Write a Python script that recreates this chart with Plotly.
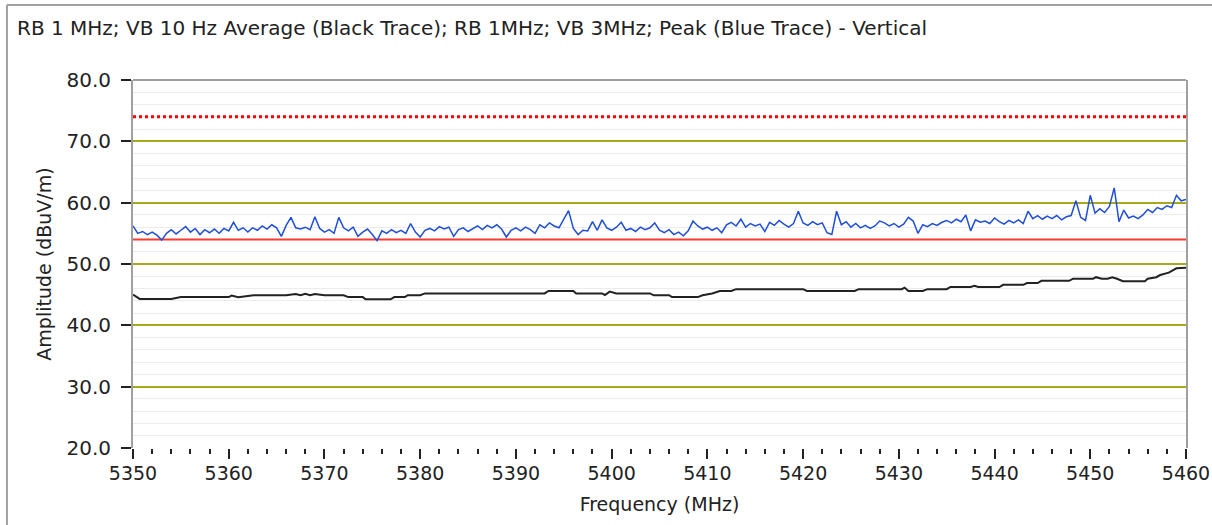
import plotly.graph_objects as go

# ── Data ───────────────────────────────────────────────────────────────────
# Blue trace: peak detector, sampled every 0.5 MHz from 5350 to 5460
PEAK_START = 5350.0
PEAK_STEP = 0.5
PEAK_DBUV = [
    56.2, 55.0, 55.3, 54.8, 55.2, 54.7, 53.9, 55.0, 55.6, 54.9,
    55.5, 56.1, 55.2, 55.8, 54.8, 55.6, 55.1, 55.7, 55.0, 55.8,
    55.4, 56.8, 55.5, 55.9, 55.2, 55.9, 55.5, 56.2, 55.7, 56.4,
    55.9, 54.5, 56.3, 57.6, 55.9, 55.7, 56.0, 55.6, 57.7, 55.8,
    55.2, 55.6, 55.0, 57.6, 55.9, 55.4, 56.0, 54.5, 55.2, 55.7,
    54.8, 53.8, 55.4, 55.0, 55.6, 55.1, 55.5, 55.0, 56.6, 55.2,
    54.4, 55.5, 55.8, 55.4, 56.1, 55.7, 56.0, 54.5, 55.6, 55.9,
    55.3, 55.8, 56.2, 55.6, 56.3, 55.9, 56.4, 55.7, 54.4, 55.5,
    55.9, 55.4, 56.0, 55.6, 55.0, 56.4, 55.9, 56.7, 56.2, 55.9,
    57.3, 58.7, 55.8, 54.8, 55.5, 55.4, 56.9, 55.5, 57.2, 55.9,
    55.5, 56.0, 56.8, 55.5, 55.8, 55.3, 56.0, 55.6, 55.9, 56.7,
    55.5, 55.1, 55.6, 54.8, 55.2, 54.6, 55.4, 57.0, 56.2, 55.7,
    56.0, 55.5, 55.9, 55.1, 56.4, 56.8, 56.2, 57.3, 56.0, 56.6,
    56.2, 56.5, 55.3, 56.8, 56.3, 57.1, 56.5, 56.0, 56.6, 58.6,
    56.7, 56.3, 56.9, 56.4, 56.7, 55.1, 54.8, 58.6, 56.4, 56.9,
    56.0, 56.6, 55.9, 56.3, 55.8, 56.2, 57.0, 56.7, 56.2, 56.6,
    56.0, 56.5, 57.6, 57.0, 55.0, 56.4, 56.1, 56.6, 56.3, 56.8,
    57.1, 56.7, 57.3, 56.9, 58.0, 55.4, 57.2, 56.8, 57.0, 56.6,
    57.5, 56.9, 56.5, 57.1, 56.7, 57.2, 56.6, 58.6, 57.4, 57.9,
    57.3, 57.8, 57.4, 57.9, 57.2, 57.7, 57.9, 60.3, 57.6, 57.1,
    61.2, 58.3, 59.0, 58.4, 59.4, 62.4, 56.9, 58.8, 57.5, 57.8,
    57.4, 58.0, 58.9, 58.4, 59.2, 58.9, 59.5, 59.2, 61.2, 60.3,
    60.5,
]
PEAK_MHZ = [PEAK_START + i * PEAK_STEP for i in range(len(PEAK_DBUV))]

# Black trace: average detector (stepped, smooth)
AVG_MHZ = [
    5350.0, 5350.7, 5354.0, 5355.0, 5360.0, 5360.3, 5361.0, 5362.6, 5366.0, 5367.0,
    5367.5, 5368.0, 5368.5, 5369.0, 5370.0, 5372.0, 5372.5, 5374.0, 5374.3, 5376.9,
    5377.3, 5378.4, 5378.7, 5380.0, 5380.5, 5393.0, 5393.4, 5396.0, 5396.3, 5399.0,
    5399.3, 5399.8, 5400.5, 5404.0, 5404.4, 5406.0, 5406.3, 5409.0, 5409.5, 5410.5,
    5411.3, 5412.5, 5413.0, 5420.0, 5420.4, 5425.4, 5425.8, 5430.3, 5430.6, 5431.0,
    5432.5, 5433.0, 5435.0, 5435.4, 5437.5, 5437.9, 5438.3, 5440.5, 5440.9, 5443.0,
    5443.4, 5444.5, 5444.9, 5447.8, 5448.2, 5450.3, 5450.6, 5451.2, 5451.8, 5452.3,
    5452.8, 5453.4, 5455.7, 5456.0, 5456.9, 5457.3, 5458.2, 5459.0, 5460.0,
]
AVG_DBUV = [
    45.0, 44.3, 44.3, 44.6, 44.6, 44.85, 44.6, 44.9, 44.9, 45.1,
    44.9, 45.15, 44.9, 45.1, 44.9, 44.9, 44.6, 44.6, 44.25, 44.25,
    44.6, 44.6, 44.9, 44.9, 45.2, 45.2, 45.6, 45.6, 45.2, 45.2,
    44.95, 45.5, 45.2, 45.2, 44.9, 44.9, 44.6, 44.6, 44.9, 45.2,
    45.6, 45.6, 45.9, 45.9, 45.6, 45.6, 45.9, 45.9, 46.15, 45.6,
    45.6, 45.9, 45.9, 46.25, 46.25, 46.45, 46.25, 46.25, 46.6, 46.6,
    46.9, 46.9, 47.25, 47.25, 47.6, 47.6, 47.85, 47.6, 47.6, 47.85,
    47.6, 47.2, 47.2, 47.6, 47.85, 48.2, 48.6, 49.3, 49.4,
]

PEAK_LIMIT = 74.0
AVG_LIMIT = 54.0
X_RANGE = [5350, 5460]
Y_RANGE = [20, 80]

TITLE = "RB 1 MHz; VB 10 Hz Average (Black Trace); RB 1MHz; VB 3MHz; Peak (Blue Trace) - Vertical"
FONT = "DejaVu Sans"
TEXT = "#222222"
OLIVE = "#a8a81c"
FRAME = "#a0a0a0"

fig = go.Figure()

# Limit lines, drawn first so the measured traces sit on top
fig.add_trace(go.Scatter(x=X_RANGE, y=[PEAK_LIMIT, PEAK_LIMIT], mode="lines", name="Peak limit",
                         line=dict(color="#ff0000", width=3, dash="dot"), showlegend=False))
fig.add_trace(go.Scatter(x=X_RANGE, y=[AVG_LIMIT, AVG_LIMIT], mode="lines", name="Average limit",
                         line=dict(color="#ff3b30", width=2), showlegend=False))

fig.add_trace(go.Scatter(x=PEAK_MHZ, y=PEAK_DBUV, mode="lines", name="Peak",
                         line=dict(color="#1f4fd6", width=1.5), showlegend=False))
fig.add_trace(go.Scatter(x=AVG_MHZ, y=AVG_DBUV, mode="lines", name="Average",
                         line=dict(color="#222222", width=2), showlegend=False))

# Top border of plot area and outer frame
fig.add_shape(type="line", xref="paper", yref="paper", x0=0, x1=1, y0=1, y1=1,
              line=dict(color=FRAME, width=2))
fig.add_shape(type="line", xref="paper", yref="paper", x0=-0.1197, x1=-0.1197, y0=-0.3, y1=1.2038,
              line=dict(color=FRAME, width=2))
fig.add_shape(type="line", xref="paper", yref="paper", x0=-0.1197, x1=1.1, y0=1.2038, y1=1.2038,
              line=dict(color=FRAME, width=2))

fig.update_layout(
    width=1212, height=525,
    margin=dict(l=133, r=26, t=80, b=77),
    paper_bgcolor="white", plot_bgcolor="white",
    font=dict(family=FONT, size=19, color=TEXT),
    title=dict(text=TITLE, x=17 / 1212, xref="container", xanchor="left",
               y=1 - 28 / 525, yref="container", yanchor="middle",
               font=dict(family=FONT, size=20, color=TEXT)),
)

fig.update_xaxes(
    range=X_RANGE, dtick=10, tick0=5350, automargin=False,
    showgrid=False, zeroline=False, showline=False,
    ticks="outside", ticklen=10, tickwidth=2, tickcolor=TEXT,
    minor=dict(dtick=2, ticks="outside", ticklen=5, tickwidth=2, tickcolor=TEXT, showgrid=False),
    tickfont=dict(size=19), ticklabelstandoff=-2,
    title=dict(text="Frequency (MHz)", font=dict(size=19), standoff=14),
)
fig.update_yaxes(
    range=Y_RANGE, dtick=10, tick0=20, tickformat=".1f",
    showgrid=True, gridcolor=OLIVE, gridwidth=2,
    zeroline=False, showline=True, linecolor=FRAME, linewidth=2, mirror=True,
    ticks="outside", ticklen=10, tickwidth=2, tickcolor=TEXT,
    minor=dict(dtick=2, showgrid=True, gridcolor="#ececec", gridwidth=1, ticks=""),
    tickfont=dict(size=20), ticklabelstandoff=6,
    title=dict(text="Amplitude (dBuV/m)", font=dict(size=19), standoff=10),
)

# the page body has a default 8px margin; drop it so the figure sits at the window origin
fig.write_html("out.html", config={"displayModeBar": False},
               post_script="document.body.style.margin='0px';")
